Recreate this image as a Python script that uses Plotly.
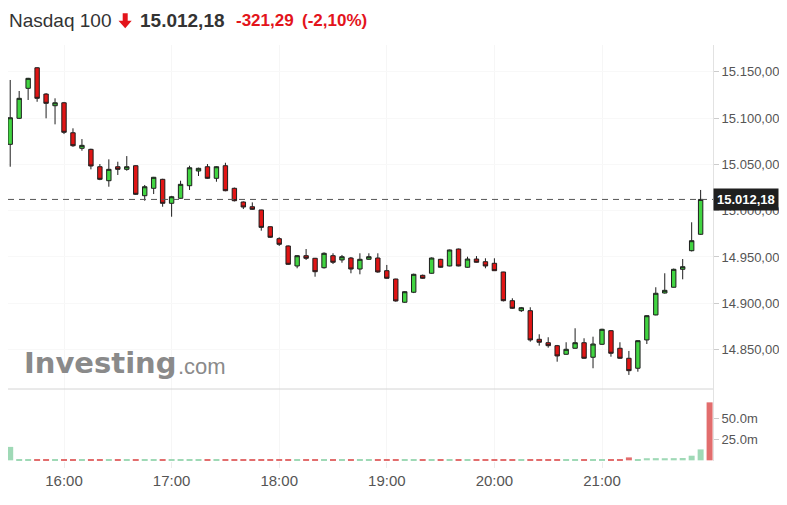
import pandas as pd
import plotly.graph_objects as go

# ---- data (5-minute candles, 15:30 .. 21:55) ----
times = pd.date_range("2022-03-07 15:30", "2022-03-07 21:55", freq="5min")
vol_times = pd.date_range("2022-03-07 15:30", "2022-03-07 22:00", freq="5min")
hour_ticks = ["2022-03-07 16:00", "2022-03-07 17:00", "2022-03-07 18:00",
              "2022-03-07 19:00", "2022-03-07 20:00", "2022-03-07 21:00"]
hour_labels = ["16:00", "17:00", "18:00", "19:00", "20:00", "21:00"]

opens = [15071.7, 15099.8, 15132.2, 15154.4, 15126.0, 15113.4, 15116.6, 15084.2, 15067.4, 15066.3,
         15047.5, 15032.4, 15047.5, 15044.7, 15048.6, 15016.2, 15024.2, 15033.9, 15008.0, 15013.4,
         15027.0, 15042.9, 15047.5, 15035.0, 15048.6, 15024.2, 15009.4, 15004.3, 15000.8, 14982.7,
         14969.8, 14961.9, 14940.3, 14951.4, 14948.6, 14938.4, 14951.4, 14946.8, 14948.9, 14937.0,
         14947.5, 14948.9, 14935.2, 14926.2, 14901.1, 14911.9, 14930.2, 14932.4, 14947.5, 14940.3,
         14958.6, 14938.9, 14947.8, 14944.9, 14943.2, 14933.8, 14902.8, 14892.0, 14892.0, 14861.1,
         14857.4, 14854.2, 14844.9, 14851.4, 14857.4, 14841.7, 14855.7, 14870.4, 14851.4, 14840.6,
         14829.8, 14860.4, 14887.4, 14911.1, 14917.3, 14936.7, 14956.8, 14974.5]
highs = [15141.2, 15129.3, 15143.5, 15155.0, 15127.0, 15121.4, 15117.5, 15089.0, 15077.4, 15067.0,
         15050.4, 15055.5, 15052.9, 15059.0, 15049.0, 15027.8, 15036.5, 15034.5, 15016.0, 15032.4,
         15048.6, 15046.5, 15050.4, 15048.0, 15051.8, 15025.0, 15010.0, 15009.0, 15001.0, 14983.0,
         14971.3, 14962.5, 14952.0, 14958.6, 14949.0, 14955.0, 14954.0, 14952.2, 14950.0, 14954.0,
         14954.0, 14954.0, 14941.4, 14926.5, 14913.0, 14932.0, 14931.0, 14949.5, 14948.0, 14958.0,
         14959.0, 14950.3, 14951.0, 14948.6, 14948.6, 14934.0, 14905.4, 14896.0, 14895.7, 14866.5,
         14863.3, 14855.0, 14857.9, 14873.0, 14862.2, 14863.9, 14872.5, 14871.0, 14857.9, 14848.5,
         14860.0, 14887.0, 14917.3, 14932.4, 14937.5, 14947.8, 14987.5, 15022.4]
lows = [15047.5, 15099.0, 15119.6, 15117.7, 15099.8, 15093.3, 15082.8, 15069.0, 15064.8, 15044.7,
        15033.0, 15025.9, 15038.6, 15043.2, 15017.0, 15010.8, 15018.0, 15004.3, 14993.5, 15013.0,
        15022.4, 15037.5, 15034.5, 15031.3, 15021.0, 15010.0, 15001.8, 15001.0, 14978.4, 14970.5,
        14961.9, 14941.5, 14937.8, 14946.8, 14928.7, 14937.5, 14942.4, 14943.8, 14932.4, 14931.3,
        14947.0, 14933.0, 14926.5, 14901.7, 14900.5, 14911.0, 14926.5, 14932.0, 14938.5, 14940.0,
        14940.0, 14938.5, 14944.0, 14937.8, 14935.0, 14902.0, 14894.0, 14890.6, 14858.5, 14854.2,
        14852.0, 14836.9, 14844.5, 14851.0, 14840.0, 14829.8, 14855.0, 14842.3, 14840.0, 14822.6,
        14826.1, 14856.0, 14887.0, 14910.5, 14917.0, 14925.9, 14956.0, 14974.0]
closes = [15100.4, 15121.4, 15143.0, 15121.4, 15116.0, 15116.6, 15084.7, 15070.2, 15070.6, 15048.3,
          15033.9, 15044.7, 15044.7, 15047.5, 15017.7, 15025.9, 15036.1, 15008.0, 15015.1, 15028.5,
          15046.4, 15045.8, 15035.0, 15047.5, 15021.6, 15010.8, 15004.0, 15001.5, 14982.0, 14971.3,
          14963.7, 14942.1, 14951.4, 14948.6, 14934.1, 14954.0, 14944.3, 14950.3, 14937.0, 14947.5,
          14950.3, 14933.8, 14927.0, 14902.5, 14912.5, 14931.3, 14927.0, 14948.9, 14938.9, 14957.6,
          14940.3, 14947.8, 14944.3, 14940.3, 14935.2, 14902.8, 14894.6, 14895.2, 14860.4, 14857.9,
          14854.2, 14843.1, 14850.3, 14857.4, 14840.6, 14856.0, 14871.9, 14846.0, 14840.6, 14827.2,
          14859.6, 14886.6, 14910.8, 14914.0, 14936.7, 14939.5, 14967.6, 15012.18]

# volume in millions (last bar = 22:00 closing auction)
volumes_m = [16.0, 1.5, 1.5, 1.6, 1.5, 1.4, 1.6, 1.5, 1.3, 1.2,
             1.0, 1.3, 1.0, 0.9, 1.0, 0.9, 0.9, 0.8, 0.9, 0.8,
             0.8, 0.7, 0.8, 0.7, 0.8, 0.8, 0.7, 0.7, 0.8, 0.8,
             0.8, 0.8, 0.7, 0.7, 0.8, 0.7, 0.7, 0.7, 0.8, 0.7,
             0.7, 0.8, 0.8, 0.9, 0.8, 0.8, 0.7, 0.8, 0.8, 0.8,
             0.8, 0.7, 0.7, 0.7, 0.8, 0.9, 0.9, 0.8, 0.9, 0.8,
             0.8, 0.9, 0.8, 0.9, 0.9, 0.9, 1.0, 1.1, 1.2, 3.5,
             1.5, 2.5, 2.6, 2.5, 2.6, 2.8, 5.5, 13.0, 69.0]
vol_up = [c >= o for o, c in zip(opens, closes)] + [False]

last_price = 15012.18
title_name = "Nasdaq 100"
title_price = "15.012,18"
title_change = "-321,29"
title_pct = "(-2,10%)"
price_ticks = [14850, 14900, 14950, 15000, 15050, 15100, 15150]
vol_tickvals = [25e6, 50e6]
vol_ticktext = ["25.0m", "50.0m"]

# ---- styling ----
GREEN = "#41d441"
RED = "#e01515"
VGREEN = "#9fd9b6"
VRED = "#e26d6d"
FONT = "Liberation Sans, Arial, sans-serif"

# page has an 8px body margin: figure origin sits at page (8, 8)
OFF = 8
FIG_W, FIG_H = 787 - OFF, 505 - OFF
PLOT_L, PLOT_R, PLOT_TOP, PLOT_BOT = 8, 713, 45, 461   # page pixels
PW = PLOT_R - PLOT_L
PH = PLOT_BOT - PLOT_TOP
vol_frac = (PLOT_BOT - 389) / PH


def px(x):
    return (x - PLOT_L) / PW


def py(y):
    return (PLOT_BOT - y) / PH


fig = go.Figure()
fig.add_trace(go.Candlestick(
    x=times, open=opens, high=highs, low=lows, close=closes,
    increasing=dict(fillcolor=GREEN, line=dict(color="#1e1e1e", width=1)),
    decreasing=dict(fillcolor=RED, line=dict(color="#1e1e1e", width=1)),
    whiskerwidth=0, xaxis="x", yaxis="y", showlegend=False, hoverinfo="skip",
))
fig.add_trace(go.Bar(
    x=vol_times, y=[v * 1e6 for v in volumes_m],
    marker=dict(color=[VGREEN if u else VRED for u in vol_up], line=dict(width=0)),
    width=200000, xaxis="x", yaxis="y2", showlegend=False, hoverinfo="skip",
))

fig.update_layout(
    width=FIG_W, height=FIG_H,
    margin=dict(l=PLOT_L - OFF, r=FIG_W - (PLOT_R - OFF), t=PLOT_TOP - OFF,
                b=FIG_H - (PLOT_BOT - OFF), autoexpand=False),
    paper_bgcolor="white", plot_bgcolor="white",
    separators=",.",
    font=dict(family=FONT, color="#555"),
    boxgap=0.3,
    xaxis=dict(
        type="date", anchor="y2", domain=[0, 1], automargin=False,
        range=["2022-03-07 15:28:46", "2022-03-07 22:01:54"],
        rangeslider=dict(visible=False),
        tickvals=hour_ticks, ticktext=hour_labels,
        ticks="outside", ticklen=6, tickcolor="#ececec",
        showgrid=True, gridcolor="#f6f6f6", zeroline=False, showline=False,
        tickfont=dict(size=15, color="#555"),
    ),
    yaxis=dict(
        domain=[vol_frac, 1], anchor="x", side="right", automargin=False,
        range=[14807.4, 15179.0],
        tickvals=price_ticks, tickformat=",.2f",
        ticks="outside", ticklen=5, tickcolor="#cccccc",
        showgrid=True, gridcolor="#f8f8f8", zeroline=False,
        showline=True, linecolor="#e2e2e2", linewidth=1,
        tickfont=dict(size=13, color="#555"),
    ),
    yaxis2=dict(
        domain=[0, vol_frac], anchor="x", side="right", automargin=False,
        range=[-0.8e6, 84.9e6],
        tickvals=vol_tickvals, ticktext=vol_ticktext,
        ticks="outside", ticklen=5, tickcolor="#cccccc",
        showgrid=False, zeroline=False,
        showline=True, linecolor="#e2e2e2", linewidth=1,
        tickfont=dict(size=13, color="#555"),
    ),
)

# separator between price and volume panes
fig.add_shape(type="line", xref="paper", yref="paper", x0=0, x1=1, y0=vol_frac, y1=vol_frac,
              line=dict(color="#d4d4d4", width=1))
# current price dashed line
fig.add_shape(type="line", xref="paper", yref="y", x0=0, x1=1, y0=last_price, y1=last_price,
              line=dict(color="#555", width=1, dash="6px,5px"))
fig.add_annotation(xref="paper", yref="y", x=1, y=last_price, xanchor="left", yanchor="middle",
                   text="<b>" + title_price + "</b>", showarrow=False, xshift=0,
                   bgcolor="#1f1f1f", borderpad=3,
                   font=dict(family=FONT, size=13, color="white"))

# header
fig.add_annotation(xref="paper", yref="paper", x=px(7), y=py(21), xanchor="left", yanchor="middle",
                   text=title_name, showarrow=False, font=dict(family=FONT, size=19, color="#333"))
arrow = (f"M {px(122.7)} {py(13.3)} L {px(127.7)} {py(13.3)} L {px(127.7)} {py(20.7)} "
         f"L {px(131.7)} {py(20.7)} L {px(125.2)} {py(28.3)} L {px(118.5)} {py(20.7)} "
         f"L {px(122.7)} {py(20.7)} Z")
fig.add_shape(type="path", xref="paper", yref="paper", path=arrow,
              fillcolor="#e3141b", line=dict(width=0))
fig.add_annotation(xref="paper", yref="paper", x=px(138), y=py(21), xanchor="left", yanchor="middle",
                   text="<b>" + title_price + "</b>", showarrow=False,
                   font=dict(family=FONT, size=19, color="#333"))
fig.add_annotation(xref="paper", yref="paper", x=px(234), y=py(21), xanchor="left", yanchor="middle",
                   text="<b>" + title_change + "</b>", showarrow=False,
                   font=dict(family=FONT, size=17, color="#e3141b"))
fig.add_annotation(xref="paper", yref="paper", x=px(300), y=py(21), xanchor="left", yanchor="middle",
                   text="<b>" + title_pct + "</b>", showarrow=False,
                   font=dict(family=FONT, size=17, color="#e3141b"))

# watermark
fig.add_annotation(xref="paper", yref="paper", x=px(22), y=py(363), xanchor="left", yanchor="middle",
                   text="<b>Investing</b>", showarrow=False,
                   font=dict(family="DejaVu Sans", size=29, color="#8a8a8a"))
fig.add_annotation(xref="paper", yref="paper", x=px(176), y=py(366), xanchor="left", yanchor="middle",
                   text=".com", showarrow=False,
                   font=dict(family=FONT, size=22, color="#8a8a8a"))

fig.write_html("out.html")
